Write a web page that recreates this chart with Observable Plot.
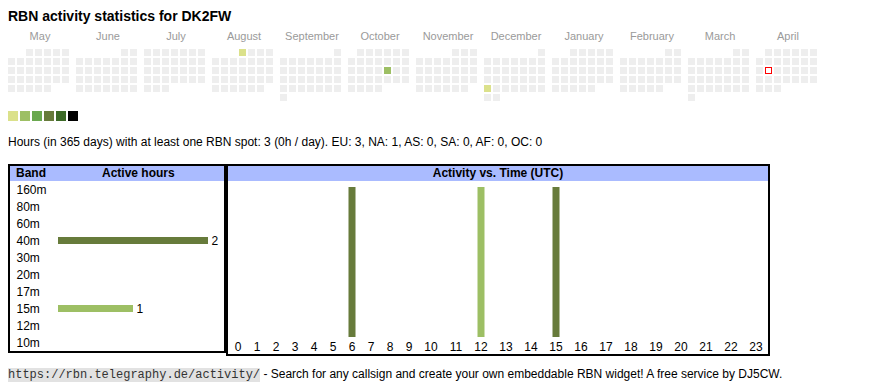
<!DOCTYPE html>
<html><head><meta charset="utf-8">
<script src="https://cdn.jsdelivr.net/npm/d3@7"></script>
<script src="https://cdn.jsdelivr.net/npm/@observablehq/plot@0.6"></script>
<style>
body{margin:0;background:#fff;font-family:Arial,"Liberation Sans",sans-serif;color:#000;}
#wrap{position:relative;width:870px;height:390px;overflow:hidden;}
.abs{position:absolute;white-space:nowrap;}
.abs svg{display:block;}
.box{position:absolute;box-sizing:border-box;border:2px solid #000;background:#fff;}
.hdr{position:absolute;background:#aabbff;height:15px;line-height:15px;font-weight:bold;font-size:12px;}
</style></head><body><div id="wrap"></div>
<script>
// ---------- data ----------
const titleText = "RBN activity statistics for DK2FW";
const monthNames = ["May","June","July","August","September","October","November","December","January","February","March","April"];
const periodStart = "2024-05-01";
const periodEnd = "2025-05-01";
const todayDate = "2025-04-15";
const activeDates = ["2024-08-01", "2024-10-18", "2024-12-23"];
const activeLevels = [1, 2, 1];
const levels = [1, 2, 3, 4, 5, 6];
const levelColors = ["#dbe18b", "#9dbf64", "#6aa84f", "#677b3b", "#3c6a27", "#000000"];
const emptyColor = "#eeeeee";
const summaryText = "Hours (in 365 days) with at least one RBN spot: 3 (0h / day). EU: 3, NA: 1, AS: 0, SA: 0, AF: 0, OC: 0";
const bands = ["160m","80m","60m","40m","30m","20m","17m","15m","12m","10m"];
const bandHours = [0, 0, 0, 2, 0, 0, 0, 1, 0, 0];
const bandColorNames = ["40m", "15m"];
const bandColorValues = ["#677b3b", "#9dbf64"];
const hourLabels = [0,1,2,3,4,5,6,7,8,9,10,11,12,13,14,15,16,17,18,19,20,21,22,23];
const activeHours = [6, 12, 15];
const activeHourBands = ["40m", "15m", "40m"];
const activeHourValues = [1, 1, 1];
const bandHeader = ["Band", "Active hours"];
const timeHeader = "Activity vs. Time (UTC)";
const footerUrl = "https://rbn.telegraphy.de/activity/";
const footerText = " - Search for any callsign and create your own embeddable RBN widget! A free service by DJ5CW.";

// ---------- helpers ----------
const wrap = document.getElementById("wrap");
function place(el, left, top) {
  const d = document.createElement("div");
  d.className = "abs";
  d.style.left = left + "px";
  d.style.top = top + "px";
  if (typeof el === "string") d.textContent = el; else d.appendChild(el);
  wrap.appendChild(d);
  return d;
}
const fontFamily = 'Arial, "Liberation Sans", sans-serif';
const bandColor = new Map(bandColorNames.map((b, i) => [b, bandColorValues[i]]));

// ---------- title ----------
const t = place(titleText, 8, 8);
t.style.font = "bold 14px " + fontFamily;
t.style.lineHeight = "16px";

// ---------- calendar ----------
const parse = d3.utcParse("%Y-%m-%d");
const fmtKey = d3.utcFormat("%Y-%m-%d");
const fmtMonth = d3.utcFormat("%B");
const levelByDate = new Map(activeDates.map((d, i) => [d, activeLevels[i]]));
const days = d3.utcDay.range(parse(periodStart), parse(periodEnd)).map(d => {
  const first = d3.utcMonth.floor(d);
  const firstDow = (first.getUTCDay() + 6) % 7;
  const key = fmtKey(d);
  return {
    date: d,
    month: fmtMonth(d),
    dow: (d.getUTCDay() + 6) % 7,
    week: Math.floor((d.getUTCDate() - 1 + firstDow) / 7),
    level: levelByDate.get(key) ?? 0,
    today: key === todayDate
  };
});

const colorScale = {type: "ordinal", domain: [0, ...levels], range: [emptyColor, ...levelColors]};

const cal = Plot.plot({
  width: 870, height: 78,
  marginTop: 24, marginBottom: 0, marginLeft: 8, marginRight: 51,
  fx: {domain: monthNames, paddingInner: 5 / 68, paddingOuter: 0, axis: "top", tickSize: 0, tickPadding: 10, label: null},
  x: {domain: d3.range(7), padding: 0, axis: null},
  y: {domain: d3.range(6), padding: 0, axis: null},
  color: colorScale,
  style: {fontFamily, fontSize: "11px", color: "#9a9a9a", background: "transparent", overflow: "visible"},
  marks: [
    Plot.cell(days, {fx: "month", x: "dow", y: "week", fill: "level", insetRight: 2, insetBottom: 2}),
    Plot.cell(days.filter(d => d.today), {fx: "month", x: "dow", y: "week", fill: "#ffffff", stroke: "#ff0000", strokeWidth: 1,
      shapeRendering: "crispEdges", insetLeft: 0.5, insetTop: 0.5, insetRight: 2.5, insetBottom: 2.5})
  ]
});
place(cal, 0, 25);

// ---------- legend ----------
const leg = Plot.plot({
  width: 72, height: 10, margin: 0,
  x: {domain: levels, padding: 0, axis: null},
  color: colorScale,
  style: {background: "transparent"},
  marks: [Plot.cell(levels, {x: d => d, fill: d => d, insetRight: 2})]
});
place(leg, 8, 111);

// ---------- summary ----------
const s = place(summaryText, 8, 135);
s.style.fontSize = "12px";
s.style.lineHeight = "14px";

// ---------- boxes ----------
function box(left, top, w, h) {
  const b = document.createElement("div");
  b.className = "box";
  Object.assign(b.style, {left: left + "px", top: top + "px", width: w + "px", height: h + "px"});
  wrap.appendChild(b);
}
function header(left, top, w, content) {
  const h = document.createElement("div");
  h.className = "hdr";
  Object.assign(h.style, {left: left + "px", top: top + "px", width: w + "px"});
  content.forEach(([txt, x, align]) => {
    const sp = document.createElement("span");
    sp.textContent = txt;
    sp.style.position = "absolute";
    if (align === "center") { sp.style.left = "0"; sp.style.width = "100%"; sp.style.textAlign = "center"; }
    else sp.style.left = x + "px";
    h.appendChild(sp);
  });
  wrap.appendChild(h);
}
box(8, 164, 218, 189);
box(226, 164, 544, 192);
header(10, 166, 214, [[bandHeader[0], 6], [bandHeader[1], 92]]);
header(228, 166, 540, [[timeHeader, 0, "center"]]);

// ---------- band chart ----------
const bandData = bands.map((b, i) => ({band: b, hours: bandHours[i]}));
const bandActive = bandData.filter(d => d.hours > 0);
const bandPlot = Plot.plot({
  width: 214, height: 170,
  marginTop: 0, marginBottom: 0, marginLeft: 6, marginRight: 0,
  x: {domain: [0, 2], range: [48, 198], axis: null},
  y: {domain: bands, padding: 0, axis: null},
  color: {type: "identity"},
  style: {fontFamily, fontSize: "12px", color: "#000", background: "transparent", overflow: "visible"},
  marks: [
    Plot.barX(bandActive, {x1: 0, x2: "hours", y: "band", fill: d => bandColor.get(d.band), insetTop: 5, insetBottom: 5}),
    Plot.text(bands, {y: d => d, text: d => d, frameAnchor: "left", textAnchor: "start", fill: "#000"}),
    Plot.text(bandActive, {x: "hours", y: "band", text: d => String(d.hours), dx: 3, textAnchor: "start", fill: "#000"})
  ]
});
place(bandPlot, 10, 181);

// ---------- hour chart ----------
const hourData = activeHours.map((h, i) => ({hour: h, band: activeHourBands[i], value: activeHourValues[i]}));
const hourPlot = Plot.plot({
  width: 540, height: 173,
  marginTop: 6, marginBottom: 17, marginLeft: 0, marginRight: 0,
  x: {type: "linear", domain: [-0.5, 9.5, 23.5], range: [0, 190, 540], ticks: hourLabels, tickFormat: d => String(d), tickSize: 0, tickPadding: 5, label: null},
  y: {domain: [0, 1], axis: null},
  color: {type: "identity"},
  style: {fontFamily, fontSize: "12px", color: "#000", background: "transparent", overflow: "visible"},
  marks: [
    Plot.ruleX(hourData, {x: "hour", y1: 0, y2: "value", stroke: d => bandColor.get(d.band), strokeWidth: 7})
  ]
});
place(hourPlot, 228, 181);

// ---------- footer ----------
const f = document.createElement("span");
const code = document.createElement("span");
code.textContent = footerUrl;
Object.assign(code.style, {fontFamily: '"Liberation Mono", "DejaVu Sans Mono", monospace', fontSize: "12px", background: "#e2e2e2", color: "#333"});
const rest = document.createElement("span");
rest.textContent = footerText;
rest.style.fontSize = "12px";
f.appendChild(code); f.appendChild(rest);
const fd = place(f, 8, 367);
fd.style.lineHeight = "14px";
fd.style.fontSize = "12px";
</script>
</body></html>
